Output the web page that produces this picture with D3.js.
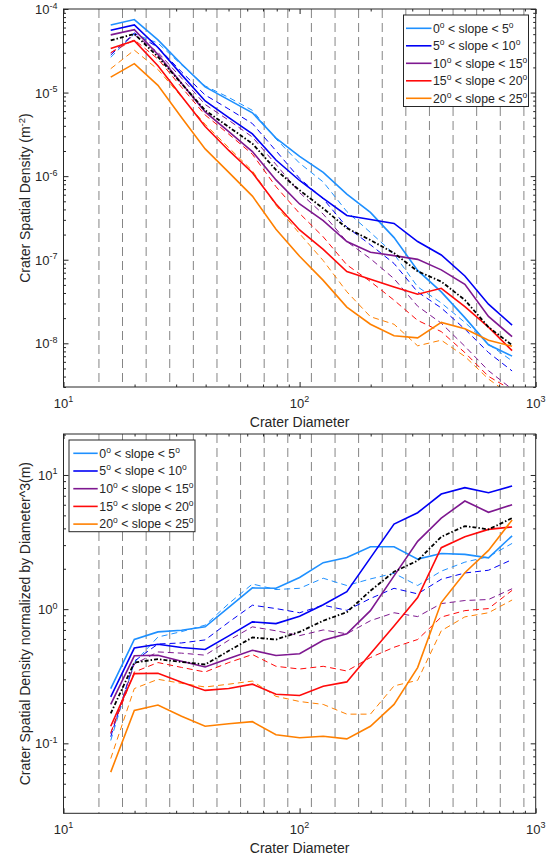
<!DOCTYPE html>
<html><head><meta charset="utf-8">
<script src="https://cdn.jsdelivr.net/npm/d3@7"></script>
<style>
body{margin:0;background:#fff;}
svg text{font-family:"Liberation Sans",Arial,Helvetica,sans-serif;white-space:pre;fill:#262626;}
</style></head><body>
<svg id="c" width="547" height="857"></svg>
<script>
// ---------------- data ----------------
const diameters = [15.85, 19.95, 25.12, 31.62, 39.81, 50.12, 63.10, 79.43, 100.0, 125.9, 158.5, 199.5, 251.2, 316.2, 398.1, 501.2, 631.0, 794.3];
const binEdges = [14.13, 17.78, 22.39, 28.18, 35.48, 44.67, 56.23, 70.79, 89.13, 112.2, 141.3, 177.8, 223.9, 281.8, 354.8, 446.7, 562.3, 707.9, 891.3];
const slopeRanges = [["0","5"],["5","10"],["10","15"],["15","20"],["20","25"]];
const slopeColors = ["#1e90ff","#0000f5","#7e1890","#ff0a0a","#ff8000"];
const xTicks = [10, 100, 1000];
const densityTicks = [1e-8, 1e-7, 1e-6, 1e-5, 1e-4];
const normTicks = [0.1, 1, 10];

// top panel: crater spatial density (m^-2), solid lines
const dens0to5   = [6.43e-5, 7.48e-5, 4.27e-5, 2.20e-5, 1.17e-5, 8.18e-6, 5.73e-6, 2.85e-6, 1.72e-6, 1.11e-6, 6.10e-7, 3.68e-7, 1.84e-7, 7.46e-8, 4.12e-8, 2.03e-8, 9.59e-9, 7.02e-9];
const dens5to10  = [5.58e-5, 6.46e-5, 3.46e-5, 1.64e-5, 7.93e-6, 5.02e-6, 3.20e-6, 1.56e-6, 8.87e-7, 5.41e-7, 3.39e-7, 3.03e-7, 2.72e-7, 1.65e-7, 1.14e-7, 6.39e-8, 2.94e-8, 1.65e-8];
const dens10to15 = [4.90e-5, 5.65e-5, 2.86e-5, 1.29e-5, 5.88e-6, 3.41e-6, 1.97e-6, 9.02e-7, 4.65e-7, 2.94e-7, 1.65e-7, 1.23e-7, 1.12e-7, 1.01e-7, 7.56e-8, 5.08e-8, 2.10e-8, 1.20e-8];
const dens15to20 = [3.37e-5, 4.17e-5, 2.10e-5, 9.01e-6, 3.93e-6, 2.03e-6, 1.10e-6, 4.63e-7, 2.27e-7, 1.33e-7, 7.21e-8, 5.85e-8, 4.73e-8, 3.86e-8, 4.55e-8, 2.75e-8, 1.56e-8, 8.18e-9];
const dens20to25 = [1.53e-5, 2.22e-5, 1.22e-5, 5.03e-6, 2.12e-6, 1.11e-6, 5.77e-7, 2.31e-7, 1.10e-7, 5.66e-8, 2.71e-8, 1.69e-8, 1.23e-8, 1.16e-8, 1.78e-8, 1.49e-8, 1.09e-8, 9.22e-9];
// top panel, dashed lines
const dens0to5B   = [2.64e-5, 5.04e-5, 3.91e-5, 2.15e-5, 1.20e-5, 8.74e-6, 6.13e-6, 2.79e-6, 1.43e-6, 8.52e-7, 3.77e-7, 2.12e-7, 1.17e-7, 4.74e-8, 3.04e-8, 1.78e-8, 9.79e-9, 6.16e-9];
const dens5to10B  = [2.81e-5, 5.16e-5, 3.47e-5, 1.77e-5, 9.35e-6, 6.35e-6, 4.26e-6, 2.01e-6, 9.40e-7, 5.36e-7, 2.46e-7, 1.51e-7, 9.02e-8, 4.11e-8, 2.65e-8, 1.48e-8, 7.76e-9, 4.67e-9];
const dens10to15B = [2.96e-5, 4.91e-5, 3.03e-5, 1.49e-5, 7.20e-6, 4.66e-6, 2.94e-6, 1.38e-6, 6.35e-7, 3.51e-7, 1.65e-7, 1.03e-7, 5.93e-8, 2.78e-8, 1.74e-8, 9.21e-9, 4.70e-9, 2.83e-9];
const dens15to20B = [3.01e-5, 4.28e-5, 2.52e-5, 1.16e-5, 5.39e-6, 3.18e-6, 1.83e-6, 7.48e-7, 3.58e-7, 1.88e-7, 8.69e-8, 5.49e-8, 3.28e-8, 1.88e-8, 1.38e-8, 7.74e-9, 4.02e-9, 2.75e-9];
const dens20to25B = [1.93e-5, 3.22e-5, 1.89e-5, 8.85e-6, 4.17e-6, 2.19e-6, 1.16e-6, 4.47e-7, 2.05e-7, 9.77e-8, 4.14e-8, 2.08e-8, 1.69e-8, 9.33e-9, 1.09e-8, 6.96e-9, 3.74e-9, 2.33e-9];
const densMean    = [4.20e-5, 5.04e-5, 2.68e-5, 1.28e-5, 6.13e-6, 3.88e-6, 2.45e-6, 1.19e-6, 6.77e-7, 4.11e-7, 2.39e-7, 1.72e-7, 1.20e-7, 7.27e-8, 5.48e-8, 3.30e-8, 1.56e-8, 9.52e-9];

// bottom panel: density normalized by D^3, solid lines
const norm0to5   = [0.256, 0.594, 0.677, 0.697, 0.738, 1.03, 1.44, 1.43, 1.72, 2.22, 2.43, 2.92, 2.92, 2.36, 2.60, 2.56, 2.41, 3.52];
const norm5to10  = [0.222, 0.513, 0.548, 0.518, 0.50, 0.632, 0.804, 0.78, 0.887, 1.08, 1.35, 2.41, 4.31, 5.23, 7.21, 8.04, 7.38, 8.28];
const norm10to15 = [0.195, 0.449, 0.453, 0.409, 0.371, 0.429, 0.494, 0.452, 0.465, 0.587, 0.655, 0.975, 1.77, 3.2, 4.77, 6.4, 5.27, 6.0];
const norm15to20 = [0.134, 0.331, 0.333, 0.285, 0.248, 0.256, 0.276, 0.232, 0.227, 0.266, 0.287, 0.465, 0.75, 1.22, 2.87, 3.46, 3.93, 4.1];
const norm20to25 = [0.061, 0.176, 0.193, 0.159, 0.134, 0.14, 0.145, 0.116, 0.11, 0.113, 0.108, 0.134, 0.195, 0.367, 1.12, 1.87, 2.74, 4.62];
// bottom panel, dashed lines
const norm0to5B   = [0.105, 0.40, 0.62, 0.68, 0.76, 1.1, 1.54, 1.40, 1.43, 1.70, 1.50, 1.68, 1.85, 1.50, 1.92, 2.24, 2.46, 3.09];
const norm5to10B  = [0.112, 0.41, 0.55, 0.56, 0.59, 0.80, 1.07, 1.01, 0.94, 1.07, 0.98, 1.2, 1.43, 1.30, 1.67, 1.86, 1.95, 2.34];
const norm10to15B = [0.118, 0.39, 0.48, 0.47, 0.454, 0.587, 0.738, 0.69, 0.635, 0.70, 0.655, 0.82, 0.94, 0.88, 1.1, 1.16, 1.18, 1.42];
const norm15to20B = [0.12, 0.34, 0.40, 0.368, 0.34, 0.40, 0.459, 0.375, 0.358, 0.375, 0.346, 0.436, 0.52, 0.594, 0.873, 0.975, 1.01, 1.38];
const norm20to25B = [0.077, 0.256, 0.30, 0.28, 0.263, 0.276, 0.291, 0.224, 0.205, 0.195, 0.165, 0.165, 0.268, 0.295, 0.69, 0.876, 0.94, 1.17];
const normMean    = [0.167, 0.40, 0.424, 0.404, 0.387, 0.489, 0.615, 0.594, 0.677, 0.82, 0.95, 1.37, 1.90, 2.3, 3.46, 4.16, 3.93, 4.77];

// ---------------- drawing ----------------
const svg = d3.select("#c");
svg.append("rect").attr("width",547).attr("height",857).attr("fill","#fff");
const AX = "#262626";

function minorTicks(lo, hi) {
  const out = [];
  for (let e = Math.floor(Math.log10(lo)); e <= Math.ceil(Math.log10(hi)); e++) {
    for (let m = 2; m <= 9; m++) {
      const v = m * Math.pow(10, e);
      if (v >= lo * 0.9999 && v <= hi * 1.0001) out.push(v);
    }
  }
  return out;
}

function addSup(t, base, exp, baseSize, supSize) {
  t.append("tspan").attr("font-size", baseSize).text(base);
  t.append("tspan").attr("font-size", supSize).attr("dy", -5.5).text(exp);
}

function drawPanel(p) {
  const x = d3.scaleLog().domain([10, 1000]).range([p.left, p.right]);
  const y = d3.scaleLog().domain(p.yDomain).range([p.bottom, p.top]);
  const g = svg.append("g");
  const clipId = "clip" + p.id;
  svg.append("clipPath").attr("id", clipId).append("rect")
    .attr("x", p.left).attr("y", p.top).attr("width", p.right - p.left).attr("height", p.bottom - p.top);

  // vertical dashed bin-edge grid
  g.append("g").selectAll("line").data(binEdges).join("line")
    .attr("x1", d => x(d)).attr("x2", d => x(d)).attr("y1", p.top).attr("y2", p.bottom)
    .attr("stroke", "#858585").attr("stroke-width", 1).attr("stroke-dasharray", "9,5");

  const line = d3.line().x((d, i) => x(diameters[i])).y(d => y(d));
  const lg = g.append("g").attr("clip-path", `url(#${clipId})`);
  p.dashed.forEach((s, i) => lg.append("path").datum(s).attr("d", line).attr("fill", "none")
    .attr("stroke", slopeColors[i]).attr("stroke-width", 1).attr("stroke-dasharray", "6,4"));
  p.solid.forEach((s, i) => lg.append("path").datum(s).attr("d", line).attr("fill", "none")
    .attr("stroke", slopeColors[i]).attr("stroke-width", 1.6));
  lg.append("path").datum(p.mean).attr("d", line).attr("fill", "none")
    .attr("stroke", "#000").attr("stroke-width", 1.8).attr("stroke-dasharray", "4,2,1.5,2");

  // axes (ticks inward)
  const xMinor = minorTicks(10, 1000);
  const yMinor = minorTicks(p.yDomain[0], p.yDomain[1]);
  const mk = (gen, tr) => {
    const a = g.append("g").attr("transform", tr).call(gen);
    a.select(".domain").remove();
    a.selectAll("line").attr("stroke", AX);
  };
  mk(d3.axisBottom(x).tickValues(xTicks).tickSize(-5).tickFormat(""), `translate(0,${p.bottom})`);
  mk(d3.axisBottom(x).tickValues(xMinor).tickSize(-2.5).tickFormat(""), `translate(0,${p.bottom})`);
  mk(d3.axisTop(x).tickValues(xTicks).tickSize(-5).tickFormat(""), `translate(0,${p.top})`);
  mk(d3.axisTop(x).tickValues(xMinor).tickSize(-2.5).tickFormat(""), `translate(0,${p.top})`);
  mk(d3.axisLeft(y).tickValues(p.yTicks).tickSize(-5).tickFormat(""), `translate(${p.left},0)`);
  mk(d3.axisLeft(y).tickValues(yMinor).tickSize(-2.5).tickFormat(""), `translate(${p.left},0)`);
  mk(d3.axisRight(y).tickValues(p.yTicks).tickSize(-5).tickFormat(""), `translate(${p.right},0)`);
  mk(d3.axisRight(y).tickValues(yMinor).tickSize(-2.5).tickFormat(""), `translate(${p.right},0)`);

  g.append("rect").attr("x", p.left).attr("y", p.top).attr("width", p.right - p.left)
    .attr("height", p.bottom - p.top).attr("fill", "none").attr("stroke", AX).attr("stroke-width", 1);

  // tick labels
  xTicks.forEach(v => {
    const t = g.append("text").attr("x", x(v)).attr("y", p.bottom + 20.5).attr("text-anchor", "middle");
    addSup(t, "10", String(Math.round(Math.log10(v))), 13, 9);
  });
  p.yTicks.forEach(v => {
    const t = g.append("text").attr("x", p.left - 6).attr("y", y(v) + 5).attr("text-anchor", "end");
    addSup(t, "10", String(Math.round(Math.log10(v))), 13, 9);
  });

  // axis labels
  g.append("text").attr("x", (p.left + p.right) / 2).attr("y", p.bottom + 39.5)
    .attr("text-anchor", "middle").attr("font-size", 14).text("Crater Diameter");
  const yl = g.append("text").attr("text-anchor", "middle").attr("font-size", 14)
    .attr("transform", `translate(30,${(p.top + p.bottom) / 2}) rotate(-90)`);
  p.yLabel(yl);

  // legend
  const L = p.legend;
  const lgd = g.append("g");
  lgd.append("rect").attr("x", L.x0).attr("y", L.y0).attr("width", L.x1 - L.x0).attr("height", L.y1 - L.y0)
    .attr("fill", "#fff").attr("stroke", AX).attr("stroke-width", 1);
  slopeRanges.forEach((r, i) => {
    const yy = L.row0 + i * L.dy;
    lgd.append("line").attr("x1", L.lx0).attr("x2", L.lx1).attr("y1", yy).attr("y2", yy)
      .attr("stroke", slopeColors[i]).attr("stroke-width", 1.6);
    const t = lgd.append("text").attr("x", L.tx).attr("y", yy + 4.2).attr("font-size", 12.3);
    t.append("tspan").text(r[0]);
    t.append("tspan").attr("font-size", 8.5).attr("dy", -5).text("o");
    t.append("tspan").attr("dy", 5).text(" < slope < " + r[1]);
    t.append("tspan").attr("font-size", 8.5).attr("dy", -5).text("o");
  });
}

drawPanel({
  id: "top", left: 63.5, right: 535.7, top: 9, bottom: 387,
  yDomain: [3e-9, 1e-4], yTicks: densityTicks,
  solid: [dens0to5, dens5to10, dens10to15, dens15to20, dens20to25],
  dashed: [dens0to5B, dens5to10B, dens10to15B, dens15to20B, dens20to25B],
  mean: densMean,
  yLabel: t => {
    t.append("tspan").text("Crater Spatial Density (m");
    t.append("tspan").attr("font-size", 9.5).attr("dy", -5.5).text("-2");
    t.append("tspan").attr("dy", 5.5).text(")");
  },
  legend: {x0: 403.5, x1: 528.5, y0: 15, y1: 106.5, lx0: 406, lx1: 431.5, tx: 433, row0: 28.3, dy: 17.5}
});

drawPanel({
  id: "bot", left: 63.5, right: 535.7, top: 434, bottom: 813.3,
  yDomain: [0.0301, 20.2], yTicks: normTicks,
  solid: [norm0to5, norm5to10, norm10to15, norm15to20, norm20to25],
  dashed: [norm0to5B, norm5to10B, norm10to15B, norm15to20B, norm20to25B],
  mean: normMean,
  yLabel: t => { t.text("Crater Spatial Density normalized by Diameter^3(m)"); },
  legend: {x0: 69, x1: 195, y0: 440, y1: 531.7, lx0: 73.3, lx1: 97.7, tx: 99.3, row0: 453.3, dy: 17.7}
});
</script>
</body></html>
